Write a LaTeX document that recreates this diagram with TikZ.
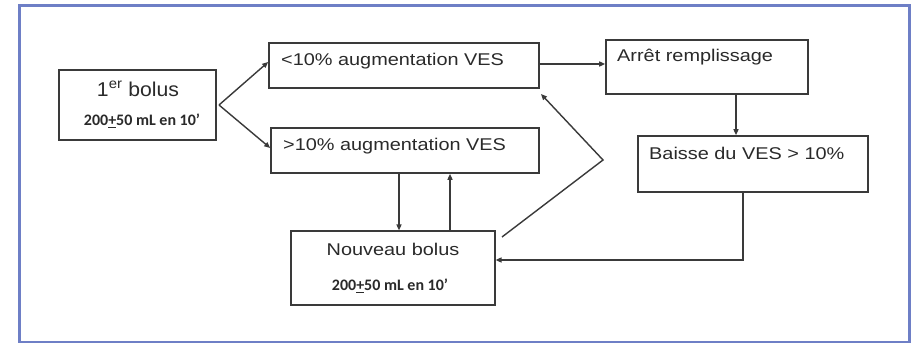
\documentclass[tikz,border=0pt]{standalone}
\usepackage{fontspec}
\setmainfont{Liberation Sans}
\newfontfamily\widesans[FakeStretch=1.17]{Liberation Sans}
\newfontfamily\onesans[FakeStretch=1.06]{Liberation Sans}
\newfontfamily\subsans{Carlito}
\usetikzlibrary{arrows.meta}
\definecolor{frameblue}{HTML}{6E7FC6}
\definecolor{boxline}{HTML}{3A3A3A}
\definecolor{txt}{HTML}{2A2A2A}
\begin{document}
\begin{tikzpicture}[x=1pt,y=-1pt,
  box/.style={draw=boxline,line width=1.6pt,fill=white,inner sep=0pt},
  lbl/.style={inner sep=0pt,text=txt,font=\widesans\fontsize{17}{19}\selectfont},
  sub/.style={inner sep=0pt,text=txt,font=\subsans\bfseries\fontsize{16}{18}\selectfont},
  conn/.style={draw=boxline,line width=1.4pt,-{Triangle[length=6pt,width=5pt]}}]
\useasboundingbox (0,0) rectangle (913,344);
\fill[white] (0,0) rectangle (913,344);
\draw[frameblue,line width=2.5pt] (19.5,5.5) rectangle (909.5,342);
% boxes
\node[box,minimum width=157,minimum height=70] (b1) at (137.5,105) {};
\node[box,minimum width=270,minimum height=45] (lt) at (404,65.5) {};
\node[box,minimum width=268,minimum height=45] (gt) at (405,150.5) {};
\node[box,minimum width=202,minimum height=54] (ar) at (707,67) {};
\node[box,minimum width=230,minimum height=56] (ba) at (753,164) {};
\node[box,line width=1.1pt,minimum width=204,minimum height=74] (nb) at (393,268) {};
% texts
\node[inner sep=0pt,text=txt,font=\onesans\fontsize{20}{22}\selectfont] (t1) at (138,89) {1\textsuperscript{er} bolus};
\node[sub] (t1b) at (142,121) {200\underline{+}50 mL en 10’};
\node[lbl,anchor=west] (tlt) at (281,61) {<10\% augmentation VES};
\node[lbl,anchor=west] (tgt) at (283,146) {>10\% augmentation VES};
\node[lbl,anchor=west] (tar) at (617,57) {Arrêt remplissage};
\node[lbl,anchor=west] (tba) at (649,153) {Baisse du VES > 10\%};
\node[lbl] (tnb) at (393,249) {Nouveau bolus};
\node[sub] (tnb2) at (390,286) {200\underline{+}50 mL en 10’};
% coordinates
\coordinate (s1) at (219,105);
\coordinate (bend) at (603,160);
\coordinate (cb) at (743,260);
% connectors
\draw[conn] (s1) -- (lt.west |- 0,62);
\draw[conn] (s1) -- (gt.west |- 0,148);
\draw[conn] (lt.east |- 0,64) -- (ar.west |- 0,64);
\draw[conn] (ar.south -| 736,0) -- (ba.north -| 736,0);
\draw[conn] (gt.south -| 399,0) -- (nb.north -| 399,0);
\draw[conn] (nb.north -| 450,0) -- (gt.south -| 450,0);
\draw[conn] (ba.south -| cb) -- (cb) -- (nb.east |- cb);
\draw[conn] (502,237) -- (bend) -- (541,94);
\end{tikzpicture}
\end{document}
